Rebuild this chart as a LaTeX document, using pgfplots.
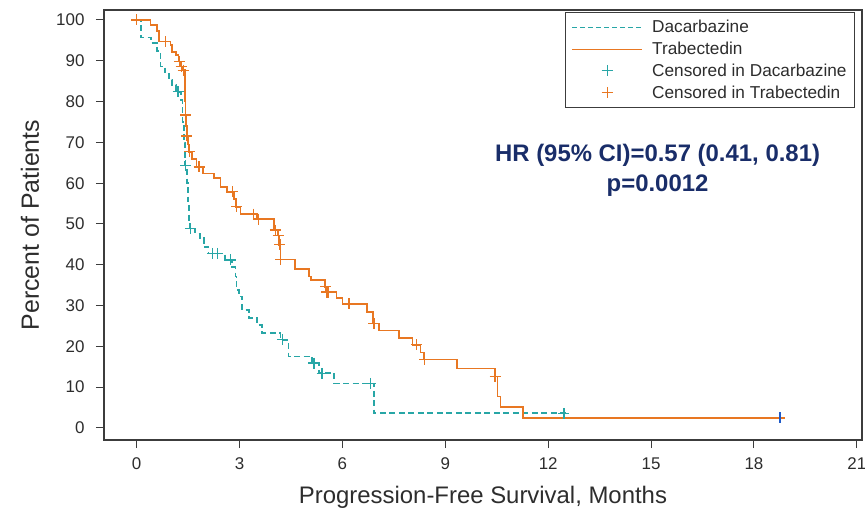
\documentclass[border=0pt]{standalone}
\usepackage{fontspec}
\setmainfont{Liberation Sans}
\usepackage{pgfplots}
\pgfplotsset{compat=1.18}
\definecolor{dteal}{RGB}{40,166,166}
\definecolor{torange}{RGB}{232,119,34}
\definecolor{cblue}{RGB}{30,90,200}
\definecolor{navy}{RGB}{25,45,105}
\definecolor{axgray}{RGB}{60,60,60}
\definecolor{txtgray}{RGB}{45,45,45}
\begin{document}
\begin{tikzpicture}
\useasboundingbox (-104bp,-74bp) rectangle (761bp,440bp);
\begin{axis}[
  scale only axis,
  width=758bp, height=430bp,
  at={(0,0)}, anchor=south west,
  xmin=-0.95, xmax=21.15,
  ymin=-2.95, ymax=102.45,
  xtick={0,3,...,21},
  ytick={0,10,...,100},
  tick pos=left,
  tick align=outside,
  major tick length=8bp,
  axis line style={axgray, line width=1.1pt},
  every tick/.style={axgray, line width=1pt},
  tick label style={font=\fontsize{17}{20}\selectfont, text=txtgray},
  /pgf/number format/assume math mode=true,
  xticklabel style={yshift=-6bp},
  yticklabel style={xshift=-8bp},
  xlabel={Progression-Free Survival, Months},
  ylabel={Percent of Patients},
  xlabel style={font=\fontsize{24}{27}\selectfont, text=txtgray, at={(rel axis cs:0.5,-0.1326)}, anchor=center},
  ylabel style={font=\fontsize{25}{28}\selectfont, text=txtgray, at={(rel axis cs:-0.0976,0.5)}, anchor=center},
  legend style={at={(rel axis cs:0.9908,0.996)}, anchor=north east,
    draw=axgray, line width=0.8pt, font=\fontsize{17.3}{19}\selectfont,
    text=txtgray, inner xsep=6bp, inner ysep=6.2bp, row sep=3.8bp},
  legend cell align=left,
  legend image code/.code={\path[draw=none] (0bp,0bp) -- (78bp,0bp);\draw[mark repeat=2,mark phase=2,#1] plot coordinates {(0bp,0bp)(35bp,0bp)(70bp,0bp)};},
]
% Dacarbazine KM curve
\addplot[dteal, line width=1.7pt, dash pattern=on 6bp off 3.5bp, const plot,
  legend image post style={draw=dteal, line width=1.1pt, dash pattern=on 5bp off 3bp}] coordinates {
(0,100) (0.12,95.7) (0.42,94.4) (0.60,92.4) (0.70,88.6) (0.83,87.1) (0.94,85.3)
(1.04,84.0) (1.15,82.4) (1.30,80.4) (1.34,75.0) (1.38,70.0) (1.42,64.3) (1.47,60.0)
(1.50,55.5) (1.53,51.0) (1.55,48.9) (1.71,47.7) (1.84,46.5) (1.96,44.4) (2.10,42.8)
(2.58,41.2) (2.79,39.5) (2.88,37.1) (2.91,33.8) (2.98,32.2) (3.08,28.9) (3.27,26.9)
(3.52,25.2) (3.66,23.2) (4.20,21.6) (4.43,17.5) (5.12,15.9) (5.31,13.4) (5.76,10.9)
(6.92,3.6) (12.6,3.6)};
\addlegendentry{Dacarbazine}
% Trabectedin KM curve
\addplot[torange, line width=1.7pt, const plot,
  legend image post style={draw=torange, line width=1.1pt}] coordinates {
(0,100) (0.41,98.8) (0.60,97.3) (0.66,94.7) (0.99,93.9) (1.04,92.2) (1.14,91.4)
(1.22,89.8) (1.30,88.6) (1.35,87.7) (1.41,80.0) (1.43,76.7) (1.45,74.0) (1.46,71.6)
(1.49,69.5) (1.53,67.7) (1.62,66.0) (1.75,64.0) (1.93,62.4) (2.25,61.2) (2.45,59.1)
(2.64,57.9) (2.84,56.2) (2.90,54.2) (3.03,52.4) (3.52,51.2) (4.00,48.5) (4.12,47.2)
(4.16,44.9) (4.20,41.3) (4.61,38.9) (5.03,37.1) (5.08,36.3) (5.50,34.6) (5.56,33.3)
(5.83,31.8) (6.00,30.4) (6.72,28.5) (6.90,25.6) (7.06,23.9) (7.65,22.0) (8.04,20.4)
(8.28,18.5) (8.38,16.8) (9.35,14.6) (10.45,12.6) (10.52,7.7) (10.61,5.1) (11.27,2.5)
(18.9,2.5)};
\addlegendentry{Trabectedin}
% Censored marks
\addplot[dteal, only marks, mark=+, mark size=5.5bp, line width=1.3pt,
  legend image post style={draw=dteal, line width=1.2pt}] coordinates {
(1.21,82.4) (1.43,64.3) (1.57,48.9) (2.21,42.8) (2.35,42.8) (2.74,41.2) (4.25,21.6)
(5.17,15.9) (5.41,13.4) (6.82,10.9) (12.46,3.6)};
\addlegendentry{Censored in Dacarbazine}
\addplot[torange, only marks, mark=+, mark size=5.5bp, line width=1.3pt,
  legend image post style={draw=torange, line width=1.2pt}] coordinates {
(0,100) (0.85,94.7) (1.25,89.8) (1.30,88.6) (1.36,87.7) (1.43,76.7) (1.46,71.6)
(1.55,67.7) (1.82,64.0) (2.79,57.9) (2.92,54.2) (3.40,52.4) (3.56,51.2) (4.05,48.5)
(4.13,47.2) (4.18,44.9) (4.20,41.3) (5.51,34.6) (5.55,33.3) (5.58,33.3) (6.19,30.4)
(6.92,25.6) (8.16,20.4) (8.40,16.8) (10.45,12.6)};
\addlegendentry{Censored in Trabectedin}
\addplot[cblue, only marks, mark=|, mark size=5.5bp, line width=2pt, mark options={draw=cblue}, forget plot] coordinates {(18.75,2.5)};
\node[font=\bfseries\fontsize{24}{27}\selectfont, text=navy, align=center] at (axis cs:15.19,63.2)
  {HR (95\% CI)=0.57 (0.41, 0.81)\\[3.5bp]p=0.0012};
\end{axis}
\end{tikzpicture}
\end{document}
